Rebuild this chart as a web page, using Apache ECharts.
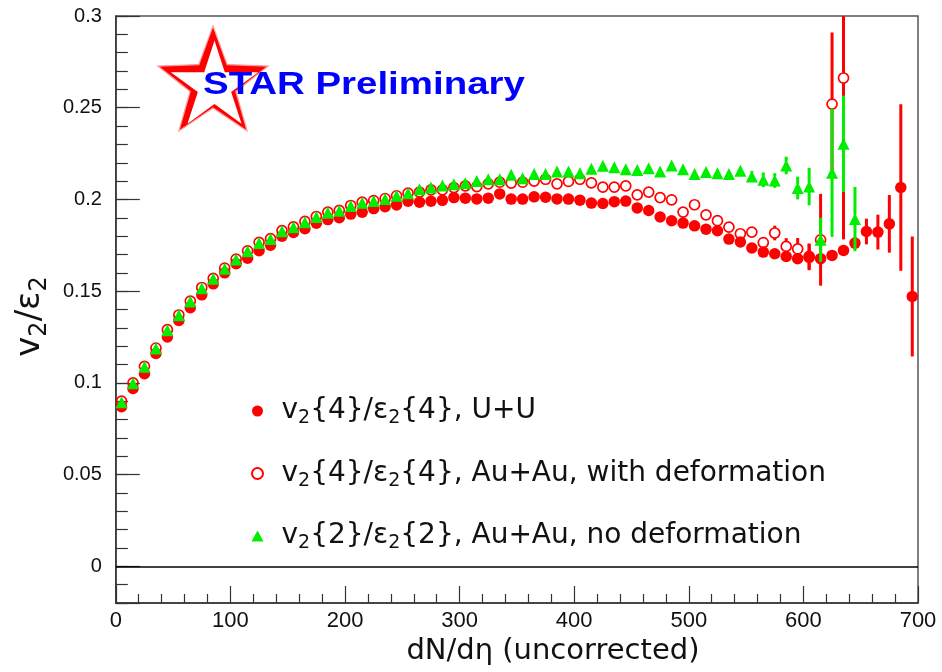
<!DOCTYPE html>
<html>
<head>
<meta charset="utf-8">
<script src="https://cdn.jsdelivr.net/npm/echarts@6/dist/echarts.min.js"></script>
<style>
html, body { margin: 0; padding: 0; background: #ffffff; }
#chart { width: 942px; height: 672px; }
</style>
</head>
<body>
<div id="chart"></div>
<script>
// dN/deta bins for each data set
const dndetaUU = [5, 15, 25, 35, 45, 55, 65, 75, 85, 95,
  105, 115, 125, 135, 145, 155, 165, 175, 185, 195,
  205, 215, 225, 235, 245, 255, 265, 275, 285, 295,
  305, 315, 325, 335, 345, 355, 365, 375, 385, 395,
  405, 415, 425, 435, 445, 455, 465, 475, 485, 495,
  505, 515, 525, 535, 545, 555, 565, 575, 585, 595,
  605, 615, 625, 635, 645, 655, 665, 675, 685, 695];
const dndetaAuDef = [5, 15, 25, 35, 45, 55, 65, 75, 85, 95,
  105, 115, 125, 135, 145, 155, 165, 175, 185, 195,
  205, 215, 225, 235, 245, 255, 265, 275, 285, 295,
  305, 315, 325, 335, 345, 355, 365, 375, 385, 395,
  405, 415, 425, 435, 445, 455, 465, 475, 485, 495,
  505, 515, 525, 535, 545, 555, 565, 575, 585, 595,
  605, 615, 625, 635];
const dndetaAuNoDef = [5, 15, 25, 35, 45, 55, 65, 75, 85, 95,
  105, 115, 125, 135, 145, 155, 165, 175, 185, 195,
  205, 215, 225, 235, 245, 255, 265, 275, 285, 295,
  305, 315, 325, 335, 345, 355, 365, 375, 385, 395,
  405, 415, 425, 435, 445, 455, 465, 475, 485, 495,
  505, 515, 525, 535, 545, 555, 565, 575, 585, 595,
  605, 615, 625, 635, 645];

// v2{4}/eps2{4}, U+U
const ratioUU = [0.087, 0.097, 0.105, 0.116, 0.125, 0.134, 0.141, 0.148, 0.154, 0.160,
  0.165, 0.168, 0.172, 0.175, 0.180, 0.182, 0.184, 0.187, 0.189, 0.190,
  0.192, 0.193, 0.195, 0.196, 0.197, 0.199, 0.1985, 0.199, 0.1995, 0.201,
  0.2007, 0.2003, 0.2007, 0.203, 0.2002, 0.2002, 0.2014, 0.2012, 0.2003, 0.2002,
  0.1996, 0.198, 0.1978, 0.1988, 0.1991, 0.1954, 0.194, 0.1904, 0.1884, 0.1871,
  0.1856, 0.1838, 0.1829, 0.1784, 0.1768, 0.1735, 0.1713, 0.1704, 0.1689, 0.1677,
  0.1684, 0.1677, 0.1695, 0.1722, 0.1762, 0.1825, 0.1822, 0.1867, 0.2065, 0.1471];
const errUU = [0.001, 0.001, 0.001, 0.001, 0.001, 0.001, 0.001, 0.001, 0.001, 0.001,
  0.001, 0.001, 0.001, 0.001, 0.001, 0.001, 0.001, 0.001, 0.001, 0.001,
  0.001, 0.001, 0.001, 0.001, 0.001, 0.001, 0.001, 0.001, 0.001, 0.001,
  0.001, 0.001, 0.001, 0.001, 0.001, 0.001, 0.001, 0.001, 0.001, 0.001,
  0.001, 0.001, 0.001, 0.001, 0.001, 0.001, 0.001, 0.001, 0.001, 0.001,
  0.001, 0.001, 0.001, 0.001, 0.001, 0.001, 0.001, 0.001, 0.002, 0.002,
  0.007, 0.002, 0.002, 0.003, 0.003, 0.007, 0.0095, 0.0157, 0.0454, 0.0327];

// v2{4}/eps2{4}, Au+Au, with deformation
const ratioAuDef = [0.090, 0.100, 0.109, 0.119, 0.129, 0.137, 0.1446, 0.152, 0.157, 0.1626,
  0.1675, 0.172, 0.1766, 0.1786, 0.183, 0.185, 0.188, 0.1907, 0.1931, 0.194,
  0.1967, 0.1985, 0.1994, 0.2005, 0.202, 0.2034, 0.204, 0.2052, 0.2052, 0.2065,
  0.2074, 0.207, 0.2085, 0.2094, 0.2089, 0.2094, 0.210, 0.211, 0.2085, 0.2098,
  0.211, 0.209, 0.2067, 0.2067, 0.2074, 0.2025, 0.204, 0.201, 0.1998, 0.1931,
  0.1971, 0.1916, 0.1884, 0.1849, 0.1813, 0.1822, 0.1765, 0.1817, 0.1744, 0.173,
  0.169, 0.178, 0.252, 0.2662];
const errAuDef = [0.001, 0.001, 0.001, 0.001, 0.001, 0.001, 0.001, 0.001, 0.001, 0.001,
  0.001, 0.001, 0.001, 0.001, 0.001, 0.001, 0.001, 0.001, 0.001, 0.001,
  0.001, 0.001, 0.001, 0.001, 0.001, 0.001, 0.001, 0.001, 0.001, 0.001,
  0.001, 0.001, 0.001, 0.001, 0.001, 0.001, 0.001, 0.001, 0.001, 0.001,
  0.001, 0.001, 0.001, 0.001, 0.001, 0.001, 0.001, 0.001, 0.001, 0.001,
  0.001, 0.001, 0.001, 0.001, 0.001, 0.001, 0.001, 0.004, 0.0045, 0.006,
  0.007, 0.025, 0.039, 0.088];

// v2{2}/eps2{2}, Au+Au, no deformation
const ratioAuNoDef = [0.0895, 0.0998, 0.1088, 0.1188, 0.1287, 0.1368, 0.1443, 0.1516, 0.1568, 0.1622,
  0.1672, 0.1717, 0.1762, 0.1784, 0.1827, 0.1848, 0.1876, 0.1904, 0.1928, 0.1938,
  0.1964, 0.1982, 0.1992, 0.2002, 0.202, 0.2034, 0.2056, 0.2065, 0.2076, 0.2083,
  0.2089, 0.210, 0.211, 0.211, 0.2134, 0.2116, 0.2139, 0.2139, 0.2152, 0.2152,
  0.2143, 0.2167, 0.2183, 0.2176, 0.2165, 0.2161, 0.217, 0.2152, 0.2185, 0.2165,
  0.2138, 0.2149, 0.2143, 0.2139, 0.2157, 0.2125, 0.2107, 0.2103, 0.2185, 0.2062,
  0.207, 0.178, 0.2146, 0.2303, 0.1893];
const errAuNoDef = [0.001, 0.001, 0.001, 0.001, 0.001, 0.001, 0.001, 0.001, 0.001, 0.001,
  0.001, 0.001, 0.001, 0.001, 0.001, 0.001, 0.001, 0.001, 0.001, 0.001,
  0.001, 0.001, 0.001, 0.001, 0.001, 0.001, 0.001, 0.001, 0.001, 0.001,
  0.001, 0.001, 0.001, 0.001, 0.001, 0.001, 0.001, 0.001, 0.001, 0.001,
  0.001, 0.001, 0.001, 0.001, 0.001, 0.001, 0.001, 0.001, 0.001, 0.001,
  0.001, 0.001, 0.001, 0.001, 0.001, 0.003, 0.004, 0.004, 0.0048, 0.0062,
  0.0102, 0.012, 0.035, 0.0263, 0.0175];

const seriesNames = ['U+U', 'Au+Au, with deformation', 'Au+Au, no deformation'];
const legendLabels = [
  'v{s|2}{4}/ε{s|2}{4}, U+U',
  'v{s|2}{4}/ε{s|2}{4}, Au+Au, with deformation',
  'v{s|2}{2}/ε{s|2}{2}, Au+Au, no deformation'
];
const xTickValues = [0, 100, 200, 300, 400, 500, 600, 700];
const yMajorTicks = [0, 0.05, 0.1, 0.15, 0.2, 0.25, 0.3];

const X_MIN = 0, X_MAX = 700, Y_MIN = -0.02, Y_MAX = 0.3;
const RED = '#ff0000', GREEN = '#00ee00';

function zip(xs, ys, es) {
  return xs.map((x, i) => [x, ys[i], es[i]]);
}

// vertical error bar drawn outside the marker, clamped to the frame
function errorBar(color, gap) {
  return function (params, api) {
    const x = api.value(0), y = api.value(1), e = api.value(2);
    const hi = Math.min(y + e, Y_MAX), lo = Math.max(y - e, Y_MIN);
    const pc = api.coord([x, y]);
    const p1 = api.coord([x, hi]);
    const p2 = api.coord([x, lo]);
    const children = [];
    if (pc[1] - p1[1] > gap) {
      children.push({ type: 'line', shape: { x1: pc[0], y1: p1[1], x2: pc[0], y2: pc[1] - gap },
        style: { stroke: color, lineWidth: 3 } });
    }
    if (p2[1] - pc[1] > gap) {
      children.push({ type: 'line', shape: { x1: pc[0], y1: pc[1] + gap, x2: pc[0], y2: p2[1] },
        style: { stroke: color, lineWidth: 3 } });
    }
    return { type: 'group', children: children };
  };
}

function starPoints(cx, cy, R, r) {
  const pts = [];
  for (let k = 0; k < 10; k++) {
    const ang = -Math.PI / 2 + k * Math.PI / 5;
    const rad = k % 2 === 0 ? R : r;
    pts.push([cx + rad * Math.cos(ang), cy + rad * Math.sin(ang)]);
  }
  return pts;
}

const chart = echarts.init(document.getElementById('chart'), null, { renderer: 'canvas' });

const axisColor = '#333333';
const tickLabelFont = 'Liberation Sans';

const option = {
  animation: false,
  backgroundColor: '#ffffff',
  grid: {
    left: 113, right: 24, top: 16, bottom: 69,
    show: true, borderColor: '#555555', borderWidth: 1.5, backgroundColor: 'transparent'
  },
  xAxis: {
    type: 'value', min: X_MIN, max: X_MAX, interval: 100,
    name: 'dN/dη (uncorrected)',
    nameLocation: 'middle', nameGap: 34,
    nameTextStyle: { fontFamily: 'DejaVu Sans', fontSize: 29, color: '#111111', padding: [0, 0, 0, 72] },
    axisLine: { show: true, onZero: false, lineStyle: { color: axisColor, width: 1.5 } },
    axisTick: { show: true, inside: true, length: 17, lineStyle: { color: axisColor, width: 1.2 } },
    minorTick: { show: true, splitNumber: 5, length: 9, lineStyle: { color: axisColor, width: 1.2 } },
    splitLine: { show: false },
    axisLabel: {
      margin: 7, fontFamily: tickLabelFont, fontSize: 22, color: '#111111',
      formatter: v => (xTickValues.indexOf(v) >= 0 ? String(v) : '')
    }
  },
  yAxis: [
    {
      type: 'value', min: Y_MIN, max: Y_MAX, splitNumber: 6,
      name: 'v{s|2}/ε{s|2}',
      nameLocation: 'middle', nameGap: 55, nameRotate: 90,
      nameTextStyle: {
        fontFamily: 'DejaVu Sans', fontSize: 34, color: '#111111', lineHeight: 44,
        padding: [0, 14, 0, 0],
        rich: { s: { fontFamily: 'DejaVu Sans', fontSize: 24, lineHeight: 20, verticalAlign: 'bottom', color: '#111111' } }
      },
      axisLine: { show: true, onZero: false, lineStyle: { color: axisColor, width: 1.5 } },
      axisTick: { show: true, inside: true, length: 24, lineStyle: { color: axisColor, width: 1.2 } },
      splitLine: { show: false },
      axisLabel: {
        margin: 14, fontFamily: tickLabelFont, fontSize: 20, color: '#111111',
        formatter: v => {
          const hit = yMajorTicks.find(t => Math.abs(t - v) < 1e-9);
          return hit === undefined ? '' : String(hit);
        }
      }
    },
    {
      // secondary axis carrying the 0.01 minor ticks
      type: 'value', min: Y_MIN, max: Y_MAX, interval: 0.01, position: 'left',
      axisLine: { show: false },
      axisTick: { show: true, inside: true, length: 12, lineStyle: { color: axisColor, width: 1.2 } },
      axisLabel: { show: false },
      splitLine: { show: false }
    }
  ],
  legend: {
    orient: 'vertical', left: 251, top: 394, padding: 0,
    itemWidth: 12, itemHeight: 11, itemGap: 28.5,
    selectedMode: false, symbolKeepAspect: true,
    data: seriesNames,
    formatter: name => legendLabels[seriesNames.indexOf(name)],
    textStyle: {
      fontFamily: 'DejaVu Sans', fontSize: 28, color: '#111111', lineHeight: 34,
      padding: [0, 0, 0, 13],
      rich: { s: { fontFamily: 'DejaVu Sans', fontSize: 19, lineHeight: 16, verticalAlign: 'bottom', color: '#111111' } }
    }
  },
  graphic: [
    { type: 'polygon', shape: { points: starPoints(213, 84, 58, 24) }, style: { fill: RED, stroke: '#ff9a9a', lineWidth: 1.2 }, z: 10 },
    { type: 'polygon', shape: { points: starPoints(214.5, 86.5, 46, 17.5) }, style: { fill: '#ffffff' }, z: 11 },
    {
      type: 'text', x: 203, y: 70, scaleX: 1.24, z: 12,
      style: { text: 'STAR Preliminary', fill: '#0000ff', font: 'bold 31px "Liberation Sans"', verticalAlign: 'top', align: 'left' }
    }
  ],
  series: [
    {
      type: 'custom', name: 'U+U bars', clip: true, silent: true,
      renderItem: errorBar(RED, 5), encode: { x: 0, y: 1 },
      data: zip(dndetaUU, ratioUU, errUU), z: 2
    },
    {
      type: 'scatter', name: seriesNames[0], symbol: 'circle', symbolSize: 11.5, silent: true,
      itemStyle: { color: RED, opacity: 1 }, data: zip(dndetaUU, ratioUU, errUU), z: 3,
      markLine: {
        silent: true, symbol: 'none', label: { show: false },
        lineStyle: { color: '#000000', width: 1.5, type: 'solid' },
        data: [{ yAxis: 0 }]
      }
    },
    {
      type: 'custom', name: 'Au+Au def bars', clip: true, silent: true,
      renderItem: errorBar(RED, 5), encode: { x: 0, y: 1 },
      data: zip(dndetaAuDef, ratioAuDef, errAuDef), z: 4
    },
    {
      type: 'scatter', name: seriesNames[1], symbol: 'circle', symbolSize: 10, silent: true,
      itemStyle: { color: 'rgba(255,255,255,0)', borderColor: RED, borderWidth: 1.7, opacity: 1 },
      data: zip(dndetaAuDef, ratioAuDef, errAuDef), z: 5
    },
    {
      type: 'custom', name: 'Au+Au nodef bars', clip: true, silent: true,
      renderItem: errorBar(GREEN, 4), encode: { x: 0, y: 1 },
      data: zip(dndetaAuNoDef, ratioAuNoDef, errAuNoDef), z: 6
    },
    {
      type: 'scatter', name: seriesNames[2], symbol: 'triangle', symbolSize: 12, symbolKeepAspect: true, silent: true,
      itemStyle: { color: GREEN, opacity: 1 }, data: zip(dndetaAuNoDef, ratioAuNoDef, errAuNoDef), z: 7
    }
  ]
};

chart.setOption(option);
</script>
</body>
</html>
